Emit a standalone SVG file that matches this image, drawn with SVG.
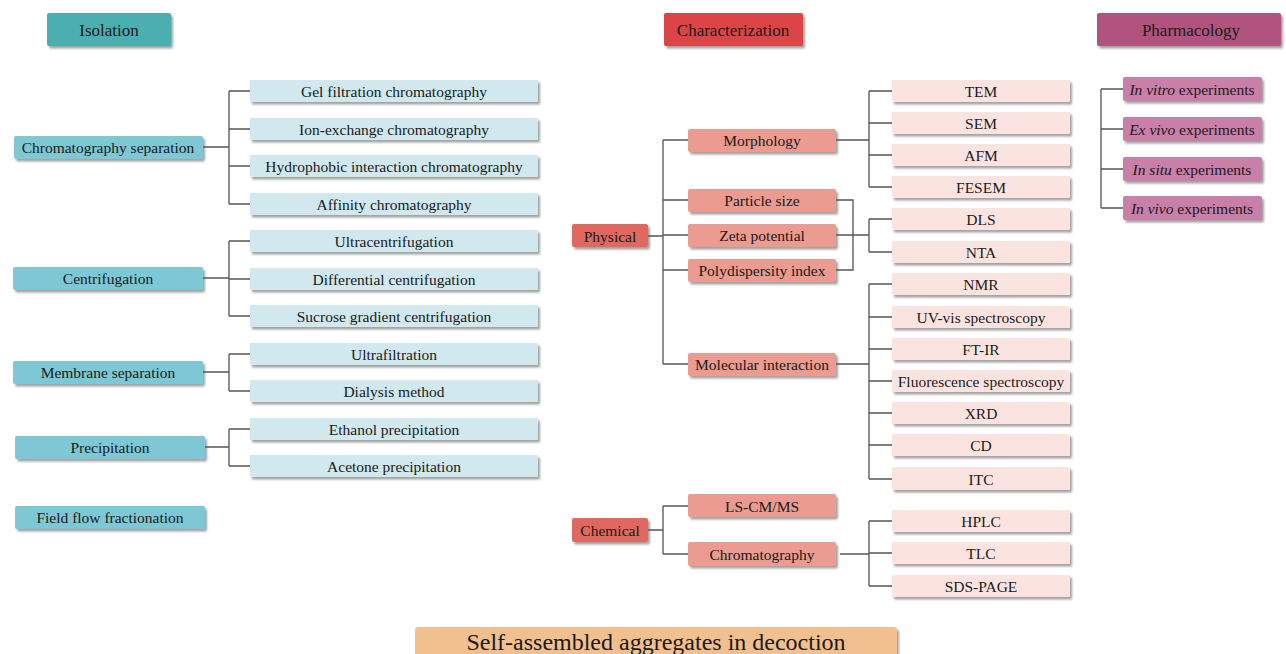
<svg xmlns="http://www.w3.org/2000/svg" width="1286" height="654" viewBox="0 0 1286 654">
<defs>
<filter id="sh" x="-10%" y="-30%" width="125%" height="180%">
<feDropShadow dx="2" dy="2.5" stdDeviation="1.2" flood-color="#555" flood-opacity="0.55"/>
</filter>
</defs>
<style>
text{font-family:"Liberation Serif","Times New Roman",serif;fill:#1a1a1a;text-anchor:middle;dominant-baseline:central}
.h{font-size:17px}
.t{font-size:15.5px}
.b{font-size:24px}
rect{filter:url(#sh)}
.iso{fill:#4BAFB1}.isp{fill:#7DC8D4}.isc{fill:#D0E8EE}
.chr{fill:#DC4447}.chp{fill:#E0685F}.chm{fill:#EB9B8F}.chc{fill:#FBE4E0}
.pha{fill:#B0537F}.phc{fill:#C97FA8}
.bot{fill:#F2C08F}
.c{fill:none;stroke:#555;stroke-width:1.3}
</style>
<g id="connectors">
<path class="c" d="M203 147H229M229 91V204M229 91H250M229 129H250M229 166H250M229 204H250"/>
<path class="c" d="M203 278H229M229 241V316M229 241H250M229 279H250M229 316H250"/>
<path class="c" d="M203 372H229M229 354V391M229 354H250M229 391H250"/>
<path class="c" d="M205 447H229M229 429V466M229 429H250M229 466H250"/>
<path class="c" d="M648 236H663M663 140V364M663 140H688M663 200H688M663 235H688M663 270H688M663 364H688"/>
<path class="c" d="M836 140H869M869 91V187M869 91H892M869 123H892M869 155H892M869 187H892"/>
<path class="c" d="M836 200H853V270H836M836 235H869M869 219V252M869 219H892M869 252H892"/>
<path class="c" d="M836 364H869M869 284V479M869 284H892M869 317H892M869 349H892M869 381H892M869 413H892M869 445H892M869 479H892"/>
<path class="c" d="M648 530H663M663 506V554M663 506H688M663 554H688"/>
<path class="c" d="M840 554H869M869 521V586M869 521H892M869 553H892M869 586H892"/>
<path class="c" d="M1101 89V208M1101 89H1123M1101 129H1123M1101 169H1123M1101 208H1123"/>
</g>
<g id="isolation"><rect class="iso" x="47" y="13" width="124" height="33" rx="2"/><text class="h" x="109" y="30">Isolation</text></g>
<g id="characterization"><rect class="chr" x="664" y="13" width="139" height="33" rx="2"/><text class="h" x="733" y="30">Characterization</text></g>
<g id="pharmacology"><rect class="pha" x="1097" y="13" width="184" height="33" rx="2"/><text class="h" x="1191" y="30">Pharmacology</text></g>

<g id="chrom-sep"><rect class="isp" x="14" y="136" width="189" height="23" rx="2"/><text class="t" x="108" y="147">Chromatography separation</text></g>
<g id="gel"><rect class="isc" x="250" y="80" width="288" height="22" rx="1"/><text class="t" x="394" y="91">Gel filtration chromatography</text></g>
<g id="ion"><rect class="isc" x="250" y="118" width="288" height="22" rx="1"/><text class="t" x="394" y="129">Ion-exchange chromatography</text></g>
<g id="hydro"><rect class="isc" x="250" y="155" width="288" height="22" rx="1"/><text class="t" x="394" y="166">Hydrophobic interaction chromatography</text></g>
<g id="affinity"><rect class="isc" x="250" y="193" width="288" height="22" rx="1"/><text class="t" x="394" y="204">Affinity chromatography</text></g>

<g id="centrifugation"><rect class="isp" x="13" y="267" width="190" height="23" rx="2"/><text class="t" x="108" y="278">Centrifugation</text></g>
<g id="ultracent"><rect class="isc" x="250" y="230" width="288" height="22" rx="1"/><text class="t" x="394" y="241">Ultracentrifugation</text></g>
<g id="diffcent"><rect class="isc" x="250" y="268" width="288" height="22" rx="1"/><text class="t" x="394" y="279">Differential centrifugation</text></g>
<g id="sucrose"><rect class="isc" x="250" y="305" width="288" height="22" rx="1"/><text class="t" x="394" y="316">Sucrose gradient centrifugation</text></g>

<g id="membrane"><rect class="isp" x="13" y="361" width="190" height="23" rx="2"/><text class="t" x="108" y="372">Membrane separation</text></g>
<g id="ultrafil"><rect class="isc" x="250" y="343" width="288" height="22" rx="1"/><text class="t" x="394" y="354">Ultrafiltration</text></g>
<g id="dialysis"><rect class="isc" x="250" y="380" width="288" height="22" rx="1"/><text class="t" x="394" y="391">Dialysis method</text></g>

<g id="precipitation"><rect class="isp" x="15" y="436" width="190" height="23" rx="2"/><text class="t" x="110" y="447">Precipitation</text></g>
<g id="ethanol"><rect class="isc" x="250" y="418" width="288" height="22" rx="1"/><text class="t" x="394" y="429">Ethanol precipitation</text></g>
<g id="acetone"><rect class="isc" x="250" y="455" width="288" height="22" rx="1"/><text class="t" x="394" y="466">Acetone precipitation</text></g>

<g id="fff"><rect class="isp" x="15" y="506" width="190" height="23" rx="2"/><text class="t" x="110" y="517">Field flow fractionation</text></g>

<g id="physical"><rect class="chp" x="572" y="224" width="76" height="23" rx="2"/><text class="t" x="610" y="236">Physical</text></g>
<g id="morphology"><rect class="chm" x="688" y="129" width="148" height="23" rx="2"/><text class="t" x="762" y="140">Morphology</text></g>
<g id="particle"><rect class="chm" x="688" y="189" width="148" height="23" rx="2"/><text class="t" x="762" y="200">Particle size</text></g>
<g id="zeta"><rect class="chm" x="688" y="224" width="148" height="23" rx="2"/><text class="t" x="762" y="235">Zeta potential</text></g>
<g id="pdi"><rect class="chm" x="688" y="259" width="148" height="23" rx="2"/><text class="t" x="762" y="270">Polydispersity index</text></g>
<g id="molecular"><rect class="chm" x="688" y="353" width="148" height="23" rx="2"/><text class="t" x="762" y="364">Molecular interaction</text></g>

<g id="tem"><rect class="chc" x="892" y="80" width="178" height="22" rx="1"/><text class="t" x="981" y="91">TEM</text></g>
<g id="sem"><rect class="chc" x="892" y="112" width="178" height="22" rx="1"/><text class="t" x="981" y="123">SEM</text></g>
<g id="afm"><rect class="chc" x="892" y="144" width="178" height="22" rx="1"/><text class="t" x="981" y="155">AFM</text></g>
<g id="fesem"><rect class="chc" x="892" y="176" width="178" height="22" rx="1"/><text class="t" x="981" y="187">FESEM</text></g>
<g id="dls"><rect class="chc" x="892" y="208" width="178" height="22" rx="1"/><text class="t" x="981" y="219">DLS</text></g>
<g id="nta"><rect class="chc" x="892" y="241" width="178" height="22" rx="1"/><text class="t" x="981" y="252">NTA</text></g>
<g id="nmr"><rect class="chc" x="892" y="273" width="178" height="22" rx="1"/><text class="t" x="981" y="284">NMR</text></g>
<g id="uvvis"><rect class="chc" x="892" y="306" width="178" height="22" rx="1"/><text class="t" x="981" y="317">UV-vis spectroscopy</text></g>
<g id="ftir"><rect class="chc" x="892" y="338" width="178" height="22" rx="1"/><text class="t" x="981" y="349">FT-IR</text></g>
<g id="fluor"><rect class="chc" x="892" y="370" width="178" height="22" rx="1"/><text class="t" x="981" y="381">Fluorescence spectroscopy</text></g>
<g id="xrd"><rect class="chc" x="892" y="402" width="178" height="22" rx="1"/><text class="t" x="981" y="413">XRD</text></g>
<g id="cd"><rect class="chc" x="892" y="434" width="178" height="22" rx="1"/><text class="t" x="981" y="445">CD</text></g>
<g id="itc"><rect class="chc" x="892" y="467" width="178" height="23" rx="1"/><text class="t" x="981" y="479">ITC</text></g>

<g id="chemical"><rect class="chp" x="572" y="518" width="76" height="24" rx="2"/><text class="t" x="610" y="530">Chemical</text></g>
<g id="lscm"><rect class="chm" x="688" y="494" width="148" height="23" rx="2"/><text class="t" x="762" y="506">LS-CM/MS</text></g>
<g id="chromatography"><rect class="chm" x="688" y="542" width="148" height="24" rx="2"/><text class="t" x="762" y="554">Chromatography</text></g>
<g id="hplc"><rect class="chc" x="892" y="510" width="178" height="22" rx="1"/><text class="t" x="981" y="521">HPLC</text></g>
<g id="tlc"><rect class="chc" x="892" y="542" width="178" height="22" rx="1"/><text class="t" x="981" y="553">TLC</text></g>
<g id="sds"><rect class="chc" x="892" y="575" width="178" height="22" rx="1"/><text class="t" x="981" y="586">SDS-PAGE</text></g>

<g id="invitro"><rect class="phc" x="1123" y="77" width="139" height="24" rx="2"/><text class="t" x="1192" y="89"><tspan font-style="italic">In vitro</tspan> experiments</text></g>
<g id="exvivo"><rect class="phc" x="1123" y="117" width="139" height="24" rx="2"/><text class="t" x="1192" y="129"><tspan font-style="italic">Ex vivo</tspan> experiments</text></g>
<g id="insitu"><rect class="phc" x="1123" y="157" width="139" height="24" rx="2"/><text class="t" x="1192" y="169"><tspan font-style="italic">In situ</tspan> experiments</text></g>
<g id="invivo"><rect class="phc" x="1123" y="196" width="139" height="24" rx="2"/><text class="t" x="1192" y="208"><tspan font-style="italic">In vivo</tspan> experiments</text></g>

<g id="bottom"><rect class="bot" x="415" y="627" width="482" height="40" rx="3"/><text class="b" x="656" y="642">Self-assembled aggregates in decoction</text></g>
</svg>
